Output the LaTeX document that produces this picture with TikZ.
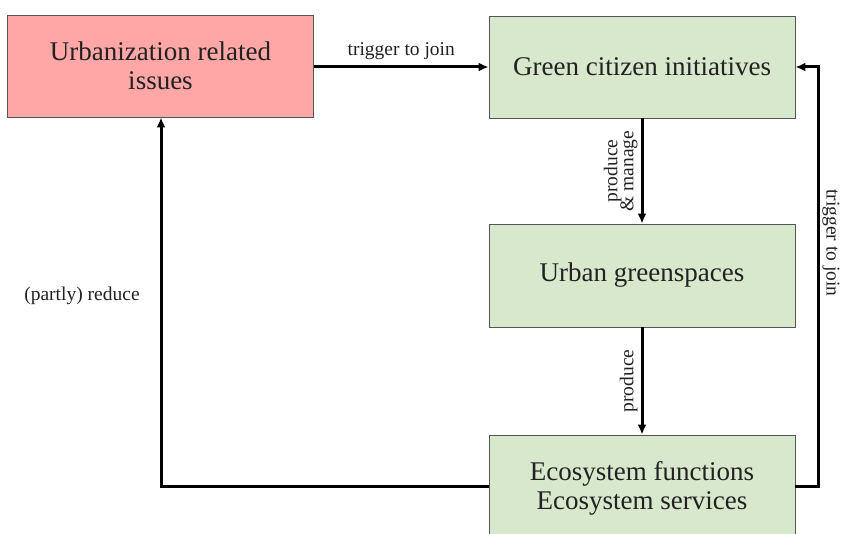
\documentclass[tikz,border=0pt]{standalone}
\usepackage{fontspec}
\setmainfont{Liberation Serif}
\usetikzlibrary{arrows.meta,positioning}
\definecolor{issuered}{HTML}{FFA6A6}
\definecolor{greenfill}{HTML}{D7E8CC}
\definecolor{boxedge}{HTML}{555555}
\definecolor{inktext}{HTML}{222222}
\tikzset{
  box/.style={draw=boxedge, line width=0.9pt, minimum width=306pt, minimum height=102pt,
    inner sep=0pt, align=center, font=\fontsize{27}{31}\selectfont, text=inktext},
  flow/.style={line width=3pt, -{Latex[length=10pt,width=9pt]}},
  lbl/.style={font=\fontsize{19.5}{21}\selectfont, text=inktext, align=center, inner sep=1pt}
}
\begin{document}
\begin{tikzpicture}[x=1pt,y=-1pt]
  \useasboundingbox (0,0) rectangle (842,534);
  \clip (0,0) rectangle (842,534);
  \fill[white] (0,0) rectangle (842,534);

  \node[box, fill=issuered] (issues) at (160.5,66) {Urbanization related\\[-2pt]issues};
  \node[box, fill=greenfill] (gci) at (642,67) {Green citizen initiatives};
  \node[box, fill=greenfill, minimum height=103pt] (ugs) at (642,275.5) {Urban greenspaces};
  \node[box, fill=greenfill, minimum height=106pt] (eco) at (642,488) {Ecosystem functions\\[-2pt]Ecosystem services};

  \coordinate (rturn1) at (818,486);
  \coordinate (rturn2) at (818,67);
  \coordinate (lturn) at (161,486);

  \draw[flow] (issues.east |- 0,67) -- node[lbl, above=5pt] (t1) {trigger to join} (gci.west);
  \draw[flow] (gci.south) -- node[lbl, rotate=90, anchor=south, yshift=2pt] (t2) {produce\\[-5pt]\& manage} (ugs.north);
  \draw[flow] (ugs.south) -- node[lbl, rotate=90, anchor=south, yshift=2pt] (t3) {produce} (eco.north);
  \draw[flow] (eco.east |- rturn1) -- (rturn1) -- (rturn2) -- (gci.east);
  \draw[flow] (eco.west |- lturn) -- (lturn) -- (issues.south -| lturn);

  \node[lbl, rotate=-90] (t4) at (831,243) {trigger to join};
  \node[lbl] (t5) at (82,296) {(partly) reduce};
\end{tikzpicture}
\end{document}
